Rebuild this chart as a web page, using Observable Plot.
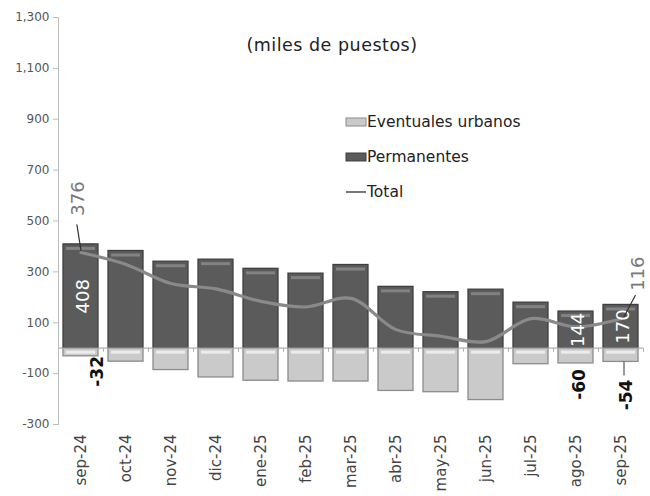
<!DOCTYPE html>
<html><head><meta charset="utf-8">
<script src="https://cdn.jsdelivr.net/npm/d3@7"></script>
<script src="https://cdn.jsdelivr.net/npm/@observablehq/plot@0.6"></script>
<style>body{margin:0;background:#fff}</style>
</head><body><div id="chart"></div>
<script>
const months = ["sep-24","oct-24","nov-24","dic-24","ene-25","feb-25","mar-25","abr-25","may-25","jun-25","jul-25","ago-25","sep-25"];
const permanentes = [408,382,340,348,312,293,327,241,220,230,179,144,170];
const eventuales = [-32,-53,-86,-115,-128,-131,-131,-168,-173,-204,-63,-60,-54];
const total = [376,329,254,233,184,162,196,73,47,26,116,84,116];
const yTicks = [-300,-100,100,300,500,700,900,1100,1300];
const legendLabels = ["Eventuales urbanos","Permanentes","Total"];
const unitsLabel = "(miles de puestos)";
const permLabelIdx = [0,11,12];

const data = months.map((m,i)=>({m, p:permanentes[i], e:eventuales[i], t:total[i], i}));
const pick = idx => idx.map(i=>data[i]);
const FONT = "DejaVu Sans";
const noHead = {draw(ctx, l){ ctx.moveTo(0,0); ctx.lineTo(0,-l); }};
const evStyle = {x: "m", y: "e", text: d => String(d.e), rotate: -90, fill: "#111", fontSize: 17, fontWeight: "bold"};

const plot = Plot.plot({
  width: 650, height: 496,
  marginLeft: 58, marginRight: 7, marginTop: 17, marginBottom: 72,
  style: {fontFamily: FONT, background: "#fff"},
  x: {domain: months, paddingInner: 0.22, paddingOuter: 0.11, label: null},
  y: {domain: [-300, 1300], label: null},
  marks: [
    Plot.frame({anchor: "left", stroke: "#bdbdbd"}),
    Plot.axisY(yTicks, {tickSize: 5, tickFormat: d => d.toLocaleString("en-US"), fontSize: 12, fill: "#555", stroke: "#bdbdbd", tickPadding: 4}),
    Plot.axisX({anchor: "bottom", tickRotate: -90, tickSize: 0, tickPadding: 10, fontSize: 15, fill: "#444"}),
    Plot.barY(data, {x: "m", y: "e", fill: "#cacaca", stroke: "#8c8c8c", strokeWidth: 1.3}),
    Plot.tickY(data, {x: "m", y: d => 0, dy: 4, inset: 3, stroke: "#ececec", strokeWidth: 3}),
    Plot.barY(data, {x: "m", y: "p", fill: "#5b5b5b", stroke: "#3f3f3f", strokeWidth: 1.3}),
    Plot.tickY(data, {x: "m", y: "p", dy: 4, inset: 3, stroke: "#828282", strokeWidth: 3}),
    Plot.ruleY([0], {stroke: "#b0b0b0", strokeWidth: 1.2}),
    Plot.ruleX(data, {x: "m", y1: 0, y2: -16, dx: 22.5, stroke: "#b0b0b0"}),
    Plot.line(data, {x: "m", y: "t", curve: "catmull-rom", stroke: "#8a8a8a", strokeWidth: 3.2}),
    Plot.text(pick(permLabelIdx), {x: "m", y: d => d.p / 2, text: d => String(d.p), rotate: -90, fill: "white", fontSize: 18, dx: 2}),
    Plot.text(pick([0]), {...evStyle, dx: 17, dy: 15}),
    Plot.text(pick([11]), {...evStyle, dx: 4, dy: 21}),
    Plot.text(pick([12]), {...evStyle, dx: 6, dy: 33}),
    Plot.vector(pick([12]), {x: "m", y: "e", length: 13, rotate: 180, anchor: "start", shape: noHead, stroke: "#555", strokeWidth: 1.2, dx: 3}),
    Plot.text(pick([0]), {x: "m", y: "t", text: d => String(d.t), rotate: -90, fill: "#777", fontSize: 18, dx: -3, dy: -54}),
    Plot.text(pick([12]), {x: "m", y: "t", text: d => String(d.t), rotate: -90, fill: "#777", fontSize: 18, dx: 17, dy: -45}),
    Plot.vector(pick([0]), {x: "m", y: "t", length: 26, rotate: -9, anchor: "start", shape: noHead, stroke: "#333", strokeWidth: 1.2, dy: -2}),
    Plot.vector(pick([12]), {x: "m", y: "t", length: 24, rotate: 28, anchor: "start", shape: noHead, stroke: "#333", strokeWidth: 1.2, dx: 3, dy: -2})
  ]
});

const svg = d3.select(plot);
svg.append("text").attr("x", 332).attr("y", 51).attr("text-anchor", "middle")
  .attr("font-size", 17.5).attr("letter-spacing", 0.5).attr("fill", "#222").attr("font-family", FONT).text(unitsLabel);
const lg = svg.append("g").attr("font-family", FONT).attr("font-size", 15.5).attr("fill", "#222").attr("text-anchor", "start");
const legendY = [122, 157, 192];
lg.append("rect").attr("x", 346).attr("y", legendY[0]-4).attr("width", 20).attr("height", 8).attr("fill", "#cacaca").attr("stroke", "#8c8c8c");
lg.append("rect").attr("x", 346).attr("y", legendY[1]-4).attr("width", 20).attr("height", 8).attr("fill", "#5b5b5b").attr("stroke", "#3f3f3f");
lg.append("line").attr("x1", 346).attr("x2", 366).attr("y1", legendY[2]).attr("y2", legendY[2]).attr("stroke", "#777").attr("stroke-width", 2);
legendLabels.forEach((t, i) => {
  lg.append("text").attr("x", 367).attr("y", legendY[i]).attr("dy", "0.35em").text(t);
});
document.getElementById("chart").append(plot);
</script>
</body></html>
